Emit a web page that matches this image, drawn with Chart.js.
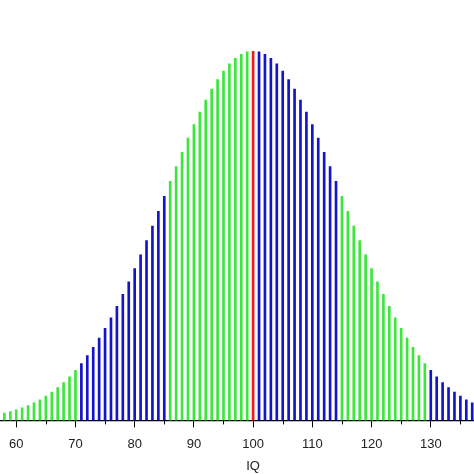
<!DOCTYPE html>
<html>
<head>
<meta charset="utf-8">
<script src="https://cdn.jsdelivr.net/npm/chart.js@4.4.1/dist/chart.umd.min.js"></script>
<style>
    html, body { margin: 0; padding: 0; background: #fff; }
    #iq-chart { display: block; }
</style>
</head>
<body>
<canvas id="iq-chart" width="474" height="474"></canvas>
<script>
// IQ scores shown as vertical bars, one per integer score
const iqScores = [
    58, 59, 60, 61, 62, 63, 64, 65, 66, 67, 68, 69, 70, 71, 72, 73, 74, 75, 76, 77,
    78, 79, 80, 81, 82, 83, 84, 85, 86, 87, 88, 89, 90, 91, 92, 93, 94, 95, 96, 97,
    98, 99, 100, 101, 102, 103, 104, 105, 106, 107, 108, 109, 110, 111, 112, 113, 114, 115, 116, 117,
    118, 119, 120, 121, 122, 123, 124, 125, 126, 127, 128, 129, 130, 131, 132, 133, 134, 135, 136, 137
];

// bar heights (density in %)
const densities = [
    0.053, 0.063, 0.076, 0.091, 0.107, 0.127, 0.149, 0.175, 0.204, 0.236, 0.273, 0.314, 0.360, 0.410, 0.466, 0.526, 0.592, 0.663, 0.739, 0.821,
    0.907, 0.998, 1.093, 1.192, 1.295, 1.399, 1.506, 1.613, 1.721, 1.827, 1.931, 2.033, 2.130, 2.221, 2.307, 2.385, 2.455, 2.516, 2.567, 2.607,
    2.636, 2.654, 2.660, 2.654, 2.636, 2.607, 2.567, 2.516, 2.455, 2.385, 2.307, 2.221, 2.130, 2.033, 1.931, 1.827, 1.721, 1.613, 1.506, 1.399,
    1.295, 1.192, 1.093, 0.998, 0.907, 0.821, 0.739, 0.663, 0.592, 0.526, 0.466, 0.410, 0.360, 0.314, 0.273, 0.236, 0.204, 0.175, 0.149, 0.127
];

const majorTicks = [60, 70, 80, 90, 100, 110, 120, 130];
const minorTicks = [65, 75, 85, 95, 105, 115, 125, 135];
const axisTitle = 'IQ';
const titleAt = 100; // the axis title sits under this score

const GREEN = '#3ce63c';
const BLUE = '#1414c8';
const RED = '#f01c1c';

function bar_color(iq)
{
    if (iq === 100) return RED;
    if (iq <= 70) return GREEN;
    if (iq <= 85) return BLUE;
    if (iq < 100) return GREEN;
    if (iq < 115) return BLUE;
    if (iq < 130) return GREEN;
    return BLUE;
}

const points = iqScores.map((iq, idx) => ({ x: iq, y: densities[idx] }));
const barColors = iqScores.map(iq => bar_color(iq));

// shorter tick marks at the half-way scores, plus the axis title
const axisExtrasPlugin = {
    id: 'axisExtras',
    afterDraw(chart) {
        const xs = chart.scales.x;
        const ctx = chart.ctx;
        ctx.save();
        ctx.strokeStyle = '#000';
        ctx.lineWidth = 1;
        minorTicks.forEach(v => {
            const px = Math.round(xs.getPixelForValue(v)) + 0.5;
            ctx.beginPath();
            ctx.moveTo(px, xs.top);
            ctx.lineTo(px, xs.top + 4);
            ctx.stroke();
        });

        ctx.fillStyle = '#222';
        ctx.font = '13px "Liberation Sans", Arial, sans-serif';
        ctx.textAlign = 'center';
        ctx.textBaseline = 'middle';
        ctx.fillText(axisTitle, xs.getPixelForValue(titleAt), xs.bottom + 5);
        ctx.restore();
    }
};

const iq_ctx = document.getElementById('iq-chart').getContext('2d');

const iqChart = new Chart(iq_ctx, {
    type: 'bar',
    data: {
        datasets: [{
            data: points,
            backgroundColor: barColors,
            borderWidth: 0,
            barThickness: 2
        }]
    },
    options: {
        responsive: false,
        animation: false,
        layout: { padding: { top: 51, left: 0, right: 0, bottom: 13 } },
        plugins: {
            legend: { display: false },
            tooltip: { enabled: false }
        },
        scales: {
            x: {
                type: 'linear',
                min: 57.3,
                max: 137.3,
                offset: false,
                afterBuildTicks: scale => {
                    scale.ticks = majorTicks.map(v => ({ value: v }));
                },
                grid: {
                    display: true,
                    drawOnChartArea: false,
                    drawTicks: true,
                    tickLength: 7,
                    tickColor: '#000',
                    offset: false
                },
                border: { display: true, color: '#000', width: 1.2 },
                ticks: {
                    autoSkip: false,
                    maxRotation: 0,
                    padding: 9,
                    color: '#222',
                    font: { family: 'Liberation Sans, Arial, sans-serif', size: 13 }
                }
            },
            y: {
                display: false,
                min: 0,
                max: Math.max(...densities)
            }
        }
    },
    plugins: [axisExtrasPlugin]
});
</script>
</body>
</html>
